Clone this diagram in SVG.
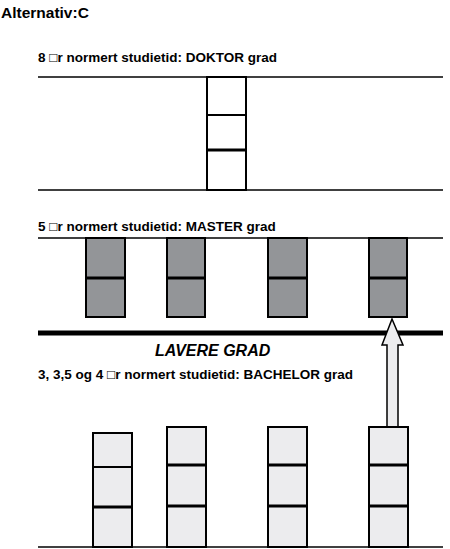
<svg xmlns="http://www.w3.org/2000/svg" width="450" height="549" viewBox="0 0 450 549">
<style>
text{font-family:"Liberation Sans",Arial,sans-serif;font-weight:bold;fill:#000}
.t{font-size:15.5px}
.s{font-size:13.5px}
.line{stroke:#000;stroke-width:1.5;fill:none}
.doc{fill:#fff;stroke:#000;stroke-width:2}
.mas{fill:#939598;stroke:#000;stroke-width:2}
.bac{fill:#ececee;stroke:#000;stroke-width:2}
.div{stroke:#000;stroke-width:3}
</style>
<rect width="450" height="549" fill="#fff"/>
<text class="t" x="1" y="18">Alternativ:C</text>
<text class="s" x="38" y="62">8 □r normert studietid: DOKTOR grad</text>
<text class="s" x="38" y="231">5 □r normert studietid: MASTER grad</text>
<text class="t" x="155" y="356" font-style="italic" font-size="16px" style="font-size:16px">LAVERE GRAD</text>
<text class="s" x="38" y="379">3, 3,5 og 4 □r normert studietid: BACHELOR grad</text>
<g id="connectors">
<line class="line" x1="38" y1="77" x2="443" y2="77"/>
<line class="line" x1="38" y1="190" x2="443" y2="190"/>
<line class="line" x1="38" y1="238" x2="443" y2="238"/>
<line x1="38" y1="333" x2="443" y2="333" stroke="#000" stroke-width="5"/>
<line class="line" x1="38" y1="547" x2="443" y2="547"/>
<polygon points="392,319 403,345 398,345 398,427 387,427 387,345 382,345" fill="#ececee" stroke="#000" stroke-width="1.5" stroke-linejoin="miter"/>
</g>
<g id="doktor">
<rect class="doc" x="207" y="77" width="39" height="113"/>
<line x1="207" y1="115" x2="246" y2="115" stroke="#000" stroke-width="2"/>
<line class="div" x1="207" y1="150" x2="246" y2="150"/>
</g>
<g id="master1"><rect class="mas" x="86" y="238" width="39" height="79"/><line class="div" x1="86" y1="278" x2="125" y2="278"/></g>
<g id="master2"><rect class="mas" x="167" y="238" width="38" height="79"/><line class="div" x1="167" y1="278" x2="205" y2="278"/></g>
<g id="master3"><rect class="mas" x="268" y="238" width="39" height="79"/><line class="div" x1="268" y1="278" x2="307" y2="278"/></g>
<g id="master4"><rect class="mas" x="369" y="238" width="38" height="79"/><line class="div" x1="369" y1="278" x2="407" y2="278"/></g>
<g id="bachelor1"><rect class="bac" x="93" y="433" width="39" height="114"/><line x1="93" y1="467" x2="132" y2="467" stroke="#000" stroke-width="2"/><line class="div" x1="93" y1="507" x2="132" y2="507"/></g>
<g id="bachelor2"><rect class="bac" x="167" y="427" width="39" height="120"/><line class="div" x1="167" y1="465" x2="206" y2="465"/><line class="div" x1="167" y1="506" x2="206" y2="506"/></g>
<g id="bachelor3"><rect class="bac" x="268" y="427" width="39" height="120"/><line class="div" x1="268" y1="465" x2="307" y2="465"/><line class="div" x1="268" y1="506" x2="307" y2="506"/></g>
<g id="bachelor4"><rect class="bac" x="369" y="427" width="39" height="120"/><line class="div" x1="369" y1="465" x2="408" y2="465"/><line class="div" x1="369" y1="506" x2="408" y2="506"/></g>
</svg>
